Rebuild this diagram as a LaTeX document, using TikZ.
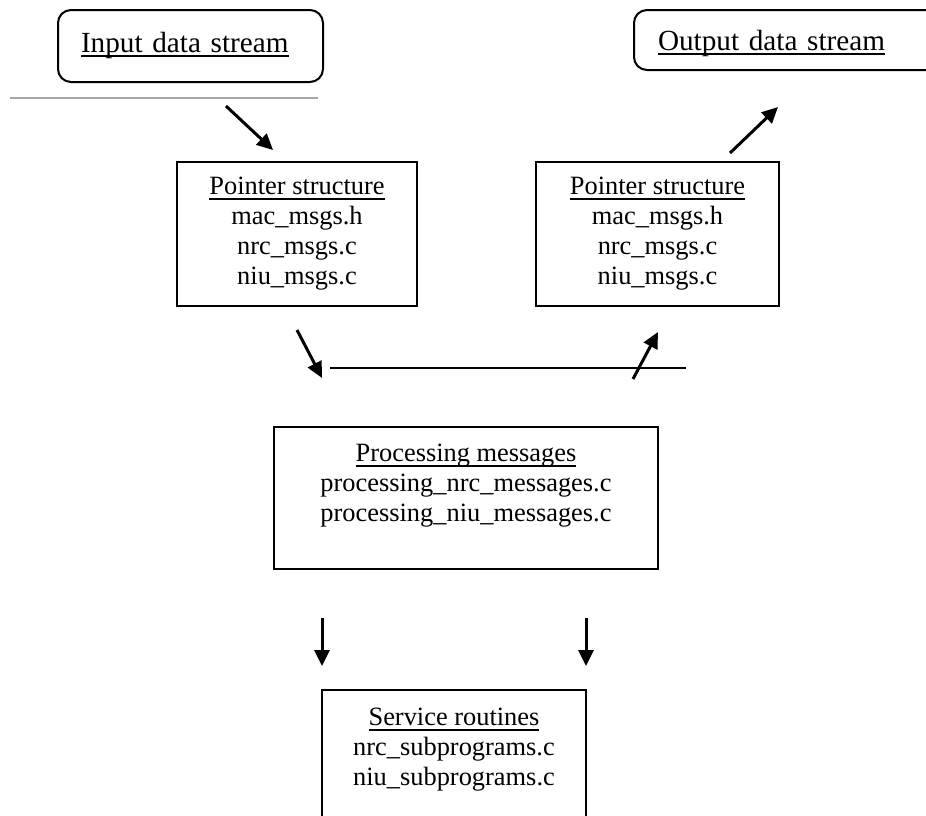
\documentclass[tikz,border=0pt]{standalone}
\usepackage{fontspec}
\setmainfont{Liberation Serif}
\usetikzlibrary{arrows.meta}
\newcommand{\ulin}[1]{\setbox0\hbox{#1}\rlap{\rule[-2.4pt]{\wd0}{0.8pt}}\box0}

\begin{document}
\begin{tikzpicture}[x=0.5pt,y=-0.5pt,
		box/.style={draw,line width=1pt,align=center,inner sep=0pt,font=\fontsize{13.2}{15}\selectfont},
		stream/.style={draw,line width=1pt,rounded corners=6.5pt,anchor=west,align=left,inner ysep=0pt,font=\fontsize{14.6}{16}\selectfont},
		arr/.style={line width=1.5pt,-{Triangle[length=8pt,width=7.5pt]}}]
				\useasboundingbox (0,0) rectangle (926,815);
				
				\node[stream,inner xsep=11.5pt,text width=109.5pt,text height=21pt,text depth=15pt] (input) at (57,46) {\ulin{Input data stream}};
				\node[stream,inner xsep=12pt,text width=150pt,text height=20pt,text depth=10pt] (output) at (633,40) {\ulin{Output data stream}};
				
				\node[box,minimum width=120pt,minimum height=72pt] (ptrin) at (297,234) {\ulin{Pointer structure}\\ mac\_msgs.h\\ nrc\_msgs.c\\ niu\_msgs.c};
				\node[box,minimum width=121.5pt,minimum height=72pt] (ptrout) at (657.5,234) {\ulin{Pointer structure}\\ mac\_msgs.h\\ nrc\_msgs.c\\ niu\_msgs.c};
				\node[box,minimum width=192pt,minimum height=71pt] (proc) at (466,498) {\ulin{Processing messages}\\ processing\_nrc\_messages.c\\ processing\_niu\_messages.c\\ \mbox{}};
				\node[box,minimum width=132pt,minimum height=72pt] (serv) at (454,762) {\ulin{Service routines}\\ nrc\_subprograms.c\\ niu\_subprograms.c\\ \mbox{}};
				
				\coordinate (g1) at (10,98);
				\coordinate (g2) at (318,98);
				\coordinate (in1) at (226,106);
				\coordinate (in2) at (273,150);
				\coordinate (out1) at (730,153);
				\coordinate (out2) at (778,107);
				\coordinate (dn1) at (297,330);
				\coordinate (dn2) at (322,378);
				\coordinate (up1) at (633,379);
				\coordinate (up2) at (658,332);
				\coordinate (h1) at (330,368);
				\coordinate (h2) at (686,368);
				\coordinate (sl1) at (322,618);
				\coordinate (sl2) at (322,666);
				\coordinate (sr1) at (586,618);
				\coordinate (sr2) at (586,666);
				
				\draw[gray!70,line width=1pt] (g1) -- (g2);
				\draw[line width=0.75pt] (h1) -- (h2);
				
				\draw[arr] (in1) -- (in2);
				\draw[arr] (out1) -- (out2);
				\draw[arr] (dn1) -- (dn2);
				\draw[arr] (up1) -- (up2);
				\draw[arr] (sl1) -- (sl2);
				\draw[arr] (sr1) -- (sr2);
				\end{tikzpicture}
\end{document}
